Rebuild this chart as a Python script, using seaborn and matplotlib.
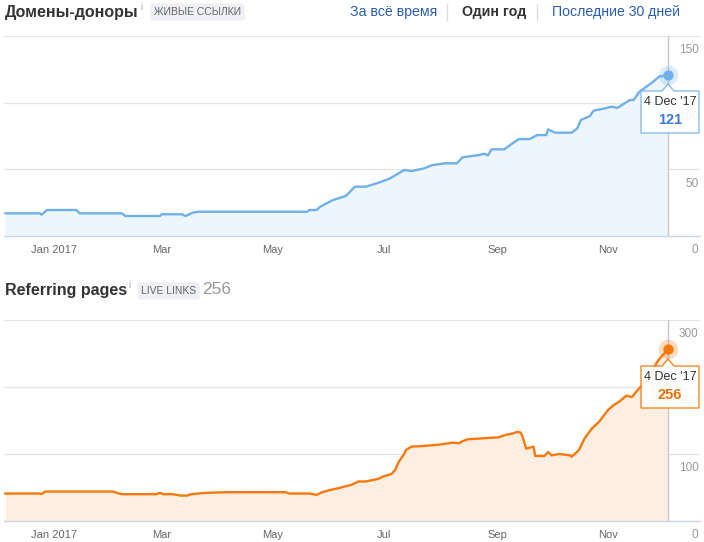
import matplotlib
matplotlib.use("Agg")
import matplotlib.pyplot as plt
import matplotlib.dates as mdates
from matplotlib.patches import Polygon
from matplotlib.transforms import blended_transform_factory, ScaledTranslation
import numpy as np
import pandas as pd
import seaborn as sns

# ---------------- data ----------------
domain_dates = ["2016-12-05", "2016-12-24", "2016-12-25", "2016-12-28", "2017-01-13", "2017-01-15",
                "2017-02-07", "2017-02-09", "2017-02-28", "2017-03-01", "2017-03-12", "2017-03-14",
                "2017-03-18", "2017-03-21", "2017-05-20", "2017-05-21", "2017-05-25", "2017-05-27",
                "2017-06-03", "2017-06-10", "2017-06-15", "2017-06-21", "2017-06-27", "2017-07-04",
                "2017-07-09", "2017-07-12", "2017-07-16", "2017-07-23", "2017-07-27", "2017-08-03",
                "2017-08-10", "2017-08-13", "2017-08-22", "2017-08-25", "2017-08-27", "2017-08-29",
                "2017-09-05", "2017-09-09", "2017-09-13", "2017-09-19", "2017-09-23", "2017-09-28",
                "2017-09-29", "2017-10-01", "2017-10-03", "2017-10-12", "2017-10-15", "2017-10-17",
                "2017-10-22", "2017-10-24", "2017-10-30", "2017-11-03", "2017-11-06", "2017-11-10",
                "2017-11-13", "2017-11-15", "2017-11-18", "2017-11-22", "2017-11-25", "2017-11-29",
                "2017-12-04"]
domain_values = [17, 17, 16, 19.5, 19.5, 17, 17, 15, 15, 16.3, 16.3, 15, 17.5, 18.2, 18.2, 19.5,
                 19.5, 22, 27, 30, 37, 37, 39.5, 43, 47, 49.5, 48.7, 50.7, 53, 54.5, 54.5, 59,
                 60.7, 61.7, 60.5, 65, 65, 69, 72.7, 72.7, 75.7, 75.7, 80, 78.7, 77.5, 77.5, 80.7,
                 87, 90, 94, 95.7, 97, 96, 99.5, 102, 102, 108, 112, 115, 119.5, 121]

page_dates = ["2016-12-05", "2016-12-24", "2016-12-25", "2016-12-27", "2017-02-02", "2017-02-07",
              "2017-02-26", "2017-02-28", "2017-03-02", "2017-03-07", "2017-03-11", "2017-03-15",
              "2017-03-17", "2017-03-25", "2017-04-06", "2017-05-08", "2017-05-10", "2017-05-21",
              "2017-05-25", "2017-05-28", "2017-06-01", "2017-06-06", "2017-06-13", "2017-06-17",
              "2017-06-21", "2017-06-28", "2017-07-01", "2017-07-05", "2017-07-07", "2017-07-09",
              "2017-07-12", "2017-07-13", "2017-07-16", "2017-07-23", "2017-07-31", "2017-08-08",
              "2017-08-11", "2017-08-13", "2017-08-16", "2017-08-22", "2017-09-02", "2017-09-05",
              "2017-09-10", "2017-09-12", "2017-09-14", "2017-09-15", "2017-09-17", "2017-09-21",
              "2017-09-22", "2017-09-27", "2017-09-29", "2017-10-01", "2017-10-05", "2017-10-11",
              "2017-10-12", "2017-10-16", "2017-10-19", "2017-10-23", "2017-10-27", "2017-11-01",
              "2017-11-04", "2017-11-07", "2017-11-11", "2017-11-14", "2017-11-18", "2017-11-24",
              "2017-11-26", "2017-11-28", "2017-12-01", "2017-12-04"]
page_values = [41, 41, 40, 44, 44, 40, 40, 42, 40, 40, 38, 38, 40, 42, 43, 43, 41, 41, 39, 43,
               46, 49, 54, 59, 59, 63, 67, 70, 76, 88, 100, 106, 111, 112, 114, 117, 116, 119,
               122, 123, 125, 128, 131, 133, 132, 126, 108, 111, 97, 97, 103, 98, 100, 98, 96,
               106, 123, 138, 148, 166, 173, 178, 187, 185, 198, 215, 228, 238, 248, 256]

x_tick_dates = ["2017-01-01", "2017-03-01", "2017-05-01", "2017-07-01", "2017-09-01", "2017-11-01"]
x_tick_labels = ["Jan 2017", "Mar", "May", "Jul", "Sep", "Nov"]
domain_yticks = [0, 50, 100, 150]
page_yticks = [0, 100, 200, 300]

title_top = "Домены-доноры"
badge_top = "ЖИВЫЕ ССЫЛКИ"
title_bottom = "Referring pages"
badge_bottom = "LIVE LINKS"
nav_items = ["За всё время", "Один год", "Последние 30 дней"]

# ---------------- style ----------------
sns.set_theme(style="white")
plt.rcParams["font.family"] = ["Liberation Sans", "DejaVu Sans"]

W, H = 704, 542
fig = plt.figure(figsize=(W / 100, H / 100), dpi=100)
fig.patch.set_facecolor("white")


def rect(l, t, r, b):
    return [l / W, 1 - b / H, (r - l) / W, (b - t) / H]


def fx(x):
    return x / W


def fy(y):
    return 1 - y / H


xmin = mdates.date2num(pd.Timestamp("2017-01-01")) - 27.6
xmax = mdates.date2num(pd.Timestamp("2017-01-01")) + 354.4


def draw_panel(ax, dates, values, line_c, fill_c, yticks):
    df = pd.DataFrame({"date": pd.to_datetime(dates), "value": values})
    ax.fill_between(df["date"], df["value"], 0, color=fill_c, lw=0, zorder=1)
    sns.lineplot(data=df, x="date", y="value", ax=ax, color=line_c, lw=1.7, zorder=3)
    ax.set_xlim(xmin, xmax)
    ax.set_ylim(yticks[0], yticks[-1])
    ax.set_xlabel("")
    ax.set_ylabel("")
    ax.set_xticks(pd.to_datetime(x_tick_dates))
    ax.set_xticklabels(x_tick_labels)
    ax.tick_params(axis="x", direction="in", length=7, width=1, color="#ccd6eb",
                   pad=6.5, labelsize=8, labelcolor="#666666")
    ax.set_yticks(yticks)
    ax.set_yticklabels([])
    ax.tick_params(axis="y", length=0)
    ax.grid(axis="y", color="#e6e6e6", lw=1)
    ax.grid(axis="x", visible=False)
    for s in ["top", "left", "right"]:
        ax.spines[s].set_visible(False)
    ax.spines["bottom"].set_color("#ccd6eb")
    ax.spines["bottom"].set_linewidth(1)
    trans = blended_transform_factory(ax.transAxes, ax.transData) + \
        ScaledTranslation(-1 / 72, -6 / 72, fig.dpi_scale_trans)
    for v in yticks:
        ax.text(1.0, v, str(v), transform=trans, ha="right", va="top",
                fontsize=8.5, color="#999999", zorder=2, clip_on=False)
    # cursor line and last point
    last_d = df["date"].iloc[-1]
    last_v = df["value"].iloc[-1]
    ax.axvline(last_d, color="#c8c8c8", lw=1, zorder=2)
    ax.scatter([last_d], [last_v], s=200, color=line_c, alpha=0.25, lw=0, zorder=4, clip_on=False)
    ax.scatter([last_d], [last_v], s=55, color=line_c, lw=0, zorder=5, clip_on=False)
    return last_d, last_v


ax1 = fig.add_axes(rect(4, 36, 700, 236))
d1, v1 = draw_panel(ax1, domain_dates, domain_values, "#6fb0e8", "#eef6fd", domain_yticks)
ax2 = fig.add_axes(rect(4, 320, 700, 521))
d2, v2 = draw_panel(ax2, page_dates, page_values, "#f7790d", "#fdeee2", page_yticks)


def tooltip(top, bottom, apex, ec, val, val_c, date):
    pts = [(641, top), (662, top), (668, apex), (674, top), (699, top), (699, bottom), (641, bottom)]
    poly = Polygon([(fx(x), fy(y)) for x, y in pts], closed=True, transform=fig.transFigure,
                   fc="white", ec=ec, lw=1, alpha=0.9, zorder=10)
    fig.patches.append(poly)
    fig.text(fx(670), fy(top + 11), date.strftime("%-d %b '%y"), ha="center", va="center",
             fontsize=9, color="#333333", zorder=11)
    fig.text(fx(670), fy(top + 29), f"{val:g}", ha="center", va="center",
             fontsize=10.5, fontweight="bold", color=val_c, zorder=11)


tooltip(91, 133, 84, "#7cb5ec", v1, "#3a7bd5", d1)
tooltip(366, 408, 359, "#f7790d", v2, "#e8700c", d2)

# ---------------- headers ----------------
fig.text(fx(5), fy(12), title_top, ha="left", va="center", fontsize=11.5,
         fontweight="bold", color="#333333")
fig.text(fx(140), fy(7), "i", ha="left", va="center", fontsize=7, color="#aaaaaa")
fig.text(fx(154), fy(12), badge_top, ha="left", va="center", fontsize=7.5, color="#666666",
         bbox=dict(boxstyle="round,pad=0.35,rounding_size=0.3", fc="#eef0f5", ec="none"))

fig.text(fx(5), fy(290), title_bottom, ha="left", va="center", fontsize=11.5,
         fontweight="bold", color="#333333")
fig.text(fx(128), fy(285), "i", ha="left", va="center", fontsize=7, color="#aaaaaa")
fig.text(fx(141), fy(291), badge_bottom, ha="left", va="center", fontsize=7.5, color="#666666",
         bbox=dict(boxstyle="round,pad=0.35,rounding_size=0.3", fc="#eef0f5", ec="none"))
fig.text(fx(202), fy(290), f"{page_values[-1]:g}", ha="left", va="center", fontsize=12.5,
         color="#999999")

fig.text(fx(350), fy(12), nav_items[0], ha="left", va="center", fontsize=10.2, color="#2a5db0")
fig.text(fx(462), fy(12), nav_items[1], ha="left", va="center", fontsize=10.2,
         fontweight="bold", color="#333333")
fig.text(fx(552), fy(12), nav_items[2], ha="left", va="center", fontsize=10.2, color="#2a5db0")
for sx in [447, 537]:
    fig.lines.append(plt.Line2D([fx(sx), fx(sx)], [fy(4), fy(20)], transform=fig.transFigure,
                                color="#dddddd", lw=1))

fig.savefig("out.png", dpi=100)
